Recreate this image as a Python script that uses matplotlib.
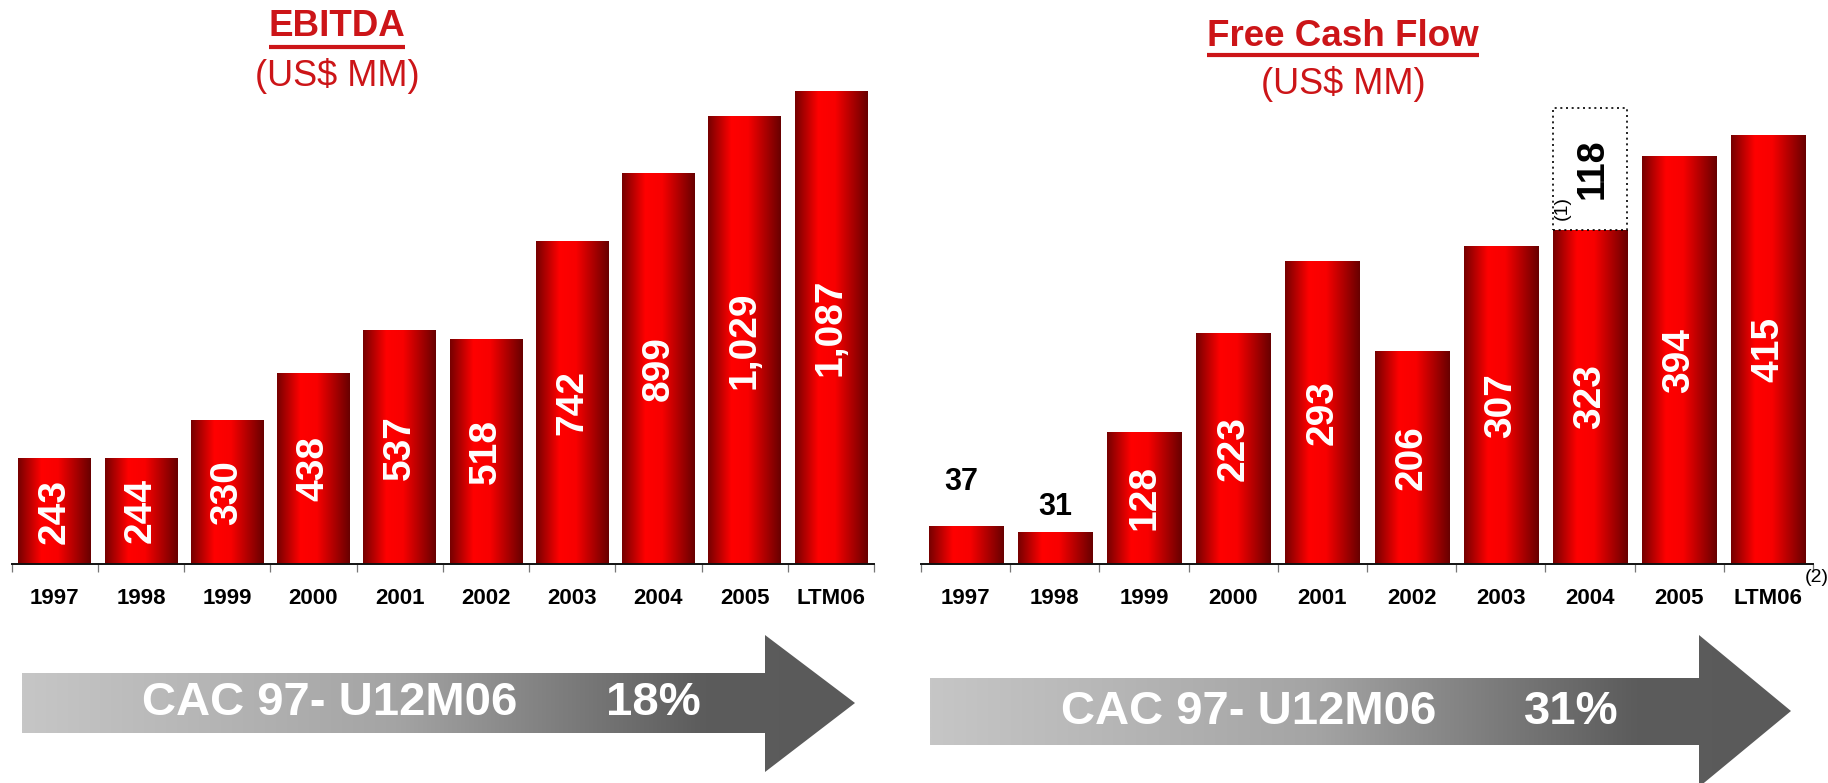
import numpy as np
import matplotlib
matplotlib.use("Agg")
import matplotlib.pyplot as plt
from matplotlib.colors import LinearSegmentedColormap
from matplotlib.patches import Polygon
from matplotlib.lines import Line2D

# ---------------------------------------------------------------------------
# data
# ---------------------------------------------------------------------------
years = ["1997", "1998", "1999", "2000", "2001", "2002", "2003", "2004", "2005", "LTM06"]
ebitda = [243, 244, 330, 438, 537, 518, 742, 899, 1029, 1087]
fcf = [37, 31, 128, 223, 293, 206, 307, 323, 394, 415]
fcf_extra_2004 = 118          # dotted box stacked on the 2004 bar
fcf_outside = [True, True] + [False] * 8   # small bars get the label above

ebitda_cagr = "18%"
fcf_cagr = "31%"
cagr_label = "CAC 97- U12M06"

# ---------------------------------------------------------------------------
# style
# ---------------------------------------------------------------------------
W, H = 1828, 783
FONT = ["Liberation Sans", "DejaVu Sans"]
TITLE_RED = "#CC1518"
plt.rcParams["font.family"] = FONT

bar_cmap = LinearSegmentedColormap.from_list(
    "bar", [(0.0, "#760000"), (0.32, "#ff0000"), (0.55, "#f80000"), (1.0, "#680000")])
arrow_cmap = LinearSegmentedColormap.from_list(
    "arrow", [(0.0, "#c6c6c6"), (0.45, "#a4a4a4"), (0.82, "#5c5c5c"), (1.0, "#5a5a5a")])


def fbox(x0, y0, x1, y1):
    """pixel box (top-left origin) -> figure fraction rect"""
    return [x0 / W, 1 - y1 / H, (x1 - x0) / W, (y1 - y0) / H]


def draw_panel(ax, values, width, ylim_top):
    x = np.arange(len(values))
    bars = ax.bar(x, values, width, color="none", edgecolor="none", zorder=2)
    grad = bar_cmap(np.linspace(0, 1, 256))[None, :, :3]
    for b in bars:
        x0, y0 = b.get_x(), b.get_y()
        im = ax.imshow(grad, extent=[x0, x0 + b.get_width(), y0, y0 + b.get_height()],
                       aspect="auto", interpolation="bilinear", zorder=2)
        im.set_clip_path(b)
    ax.set_xlim(-0.5, len(values) - 0.5)
    ax.set_ylim(0, ylim_top)
    ax.patch.set_visible(False)
    for s in ("left", "top", "right"):
        ax.spines[s].set_visible(False)
    ax.spines["bottom"].set_linewidth(1.4)
    ax.spines["bottom"].set_color("#111111")
    ax.set_yticks([])
    ax.set_xticks(x)
    ax.set_xticklabels(years, fontsize=16, fontweight="bold")
    ax.set_xticks(np.arange(-0.5, len(values)), minor=True)
    ax.tick_params(axis="x", which="major", length=0, pad=17)
    ax.tick_params(axis="x", which="minor", length=6, width=0.9, color="#777777")
    return bars


def value_labels(ax, bars, values, outside=None):
    for i, (b, v) in enumerate(zip(bars, values)):
        cx = b.get_x() + b.get_width() / 2
        if outside is not None and outside[i]:
            continue
        ax.text(cx, v / 2, f"{v:,}", rotation=90, ha="center", va="center",
                color="white", fontsize=28, fontweight="bold", zorder=4)


fig = plt.figure(figsize=(W / 100, H / 100), dpi=100)

# ---------------------------------------------------------------------------
# EBITDA panel
# ---------------------------------------------------------------------------
ax1 = fig.add_axes(fbox(11.5, 0, 874, 564))
b1 = draw_panel(ax1, ebitda, 0.84, 1296)
value_labels(ax1, b1, ebitda)

# ---------------------------------------------------------------------------
# Free cash flow panel
# ---------------------------------------------------------------------------
ax2 = fig.add_axes(fbox(921, 0, 1813, 564))
b2 = draw_panel(ax2, fcf, 0.83, 545)
value_labels(ax2, b2, fcf, fcf_outside)

# labels above the two small bars
offsets = [29, 10]
for i, off in zip([0, 1], offsets):
    b = b2[i]
    ax2.annotate(f"{fcf[i]}", (b.get_x() + b.get_width() / 2, fcf[i]),
                 xytext=(-4 if i == 0 else 0, off), textcoords="offset pixels",
                 ha="center", va="bottom", fontsize=22, fontweight="bold", color="black")

# dotted box for the extra 2004 amount
i04 = years.index("2004")
box = ax2.bar(i04, fcf_extra_2004, 0.83, bottom=fcf[i04], color="none",
              edgecolor="black", linestyle=(0, (1.2, 2.2)), linewidth=1.2, zorder=3)[0]
bx = box.get_x() + box.get_width() / 2
ax2.text(bx + 0.03, fcf[i04] + fcf_extra_2004 / 2, f"{fcf_extra_2004}", rotation=90,
         ha="center", va="center", fontsize=27, fontweight="bold", color="black")
ax2.annotate("(1)", (box.get_x(), fcf[i04]), xytext=(1, 10), textcoords="offset pixels",
             rotation=90, ha="left", va="bottom", fontsize=14, color="black")

# superscript on LTM06
fig.text(1805 / W, 1 - 578 / H, "(2)", fontsize=14, ha="left", va="center")

# ---------------------------------------------------------------------------
# titles
# ---------------------------------------------------------------------------
titles = [("EBITDA", 337, 27, 47), ("Free Cash Flow", 1343, 36, 55)]
subtitles = [(337, 76), (1343, 84)]
title_texts = []
for txt, cx, cy, uy in titles:
    t = fig.text(cx / W, 1 - cy / H, txt, ha="center", va="center", fontsize=26.5,
                 fontweight="bold", color=TITLE_RED)
    title_texts.append((t, uy))
for cx, cy in subtitles:
    fig.text(cx / W, 1 - cy / H, "(US$ MM)", ha="center", va="center", fontsize=26,
             color=TITLE_RED)

fig.canvas.draw()
for t, uy in title_texts:
    bb = t.get_window_extent()
    fig.add_artist(Line2D([bb.x0 / W, bb.x1 / W], [1 - uy / H] * 2, color=TITLE_RED,
                          linewidth=3.0, solid_capstyle="butt"))

# ---------------------------------------------------------------------------
# CAGR arrows
# ---------------------------------------------------------------------------
over = fig.add_axes([0, 0, 1, 1], zorder=-1)
over.set_xlim(0, W)
over.set_ylim(H, 0)
over.axis("off")

arrows = [
    # x_start, x_head, x_tip, body_top, body_bot, head_top, head_bot, tip_y, text_x, pct_x, label
    (22, 765, 855, 673, 733, 635, 772, 703, 142, 606, ebitda_cagr),
    (930, 1699, 1791, 678, 745, 635, 787, 711, 1061, 1524, fcf_cagr),
]
agrad = arrow_cmap(np.linspace(0, 1, 256))[None, :, :3]
for xs, xh, xt, bt, bb_, ht, hb, ty, tx, px, pct in arrows:
    poly = Polygon([(xs, bt), (xh, bt), (xh, ht), (xt, ty), (xh, hb), (xh, bb_), (xs, bb_)],
                   closed=True, facecolor="none", edgecolor="none")
    over.add_patch(poly)
    im = over.imshow(agrad, extent=[xs, xt, hb, ht], aspect="auto", interpolation="bilinear")
    im.set_clip_path(poly)
    cy = (bt + bb_) / 2
    over.text(tx, cy, cagr_label, ha="left", va="center", fontsize=34,
              fontweight="bold", color="white")
    over.text(px, cy, pct, ha="left", va="center", fontsize=34,
              fontweight="bold", color="white")

fig.savefig("out.png", dpi=100)
